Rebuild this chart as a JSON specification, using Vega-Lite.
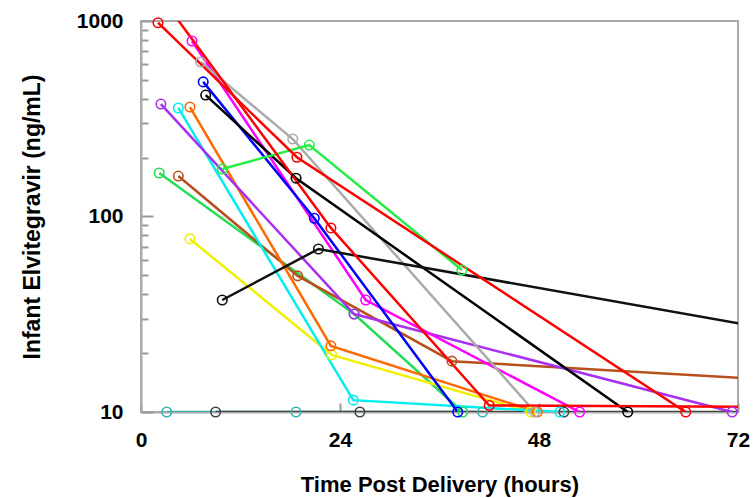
{
  "$schema": "https://vega.github.io/schema/vega-lite/v6.json",
  "width": 597,
  "height": 391,
  "autosize": {"type": "none"},
  "padding": {"left": 141, "top": 21, "right": 15, "bottom": 86},
  "background": "white",
  "config": {
    "view": {"stroke": "#aaaaaa", "strokeWidth": 2},
    "font": "Liberation Sans"
  },
  "data": {
    "values": [
      {"series": "P01", "hour": 3.1, "conc": 10},
      {"series": "P01", "hour": 18.7, "conc": 10},
      {"series": "P01", "hour": 41.2, "conc": 10},
      {"series": "P02", "hour": 9.0, "conc": 10},
      {"series": "P02", "hour": 26.4, "conc": 10},
      {"series": "P02", "hour": 51.0, "conc": 10},
      {"series": "P02", "hour": 80, "conc": 10},
      {"series": "P03", "hour": 2.2, "conc": 167},
      {"series": "P03", "hour": 25.7, "conc": 31.7},
      {"series": "P03", "hour": 38.8, "conc": 10},
      {"series": "P04", "hour": 4.5, "conc": 161},
      {"series": "P04", "hour": 18.9, "conc": 49.7},
      {"series": "P04", "hour": 37.5, "conc": 18.2},
      {"series": "P04", "hour": 80, "conc": 14.3},
      {"series": "P05", "hour": 5.9, "conc": 76.8},
      {"series": "P05", "hour": 23.0, "conc": 19.6},
      {"series": "P05", "hour": 47.0, "conc": 10},
      {"series": "P06", "hour": 5.9, "conc": 363},
      {"series": "P06", "hour": 22.9, "conc": 21.8},
      {"series": "P06", "hour": 47.8, "conc": 10},
      {"series": "P07", "hour": 4.5, "conc": 359},
      {"series": "P07", "hour": 25.6, "conc": 11.5},
      {"series": "P07", "hour": 50.5, "conc": 10},
      {"series": "P08", "hour": 2.4, "conc": 376},
      {"series": "P08", "hour": 25.7, "conc": 31.7},
      {"series": "P08", "hour": 71.3, "conc": 10},
      {"series": "P09", "hour": 6.15, "conc": 790},
      {"series": "P09", "hour": 27.1, "conc": 37.4},
      {"series": "P09", "hour": 52.9, "conc": 10},
      {"series": "P10", "hour": 7.2, "conc": 617},
      {"series": "P10", "hour": 18.3, "conc": 249},
      {"series": "P10", "hour": 47.5, "conc": 10},
      {"series": "P11", "hour": 7.5, "conc": 488},
      {"series": "P11", "hour": 20.9, "conc": 98},
      {"series": "P11", "hour": 38.2, "conc": 10},
      {"series": "P12", "hour": 7.8, "conc": 418},
      {"series": "P12", "hour": 18.7, "conc": 157},
      {"series": "P12", "hour": 58.7, "conc": 10},
      {"series": "P13", "hour": 9.8, "conc": 37.4},
      {"series": "P13", "hour": 21.4, "conc": 68.2},
      {"series": "P13", "hour": 80, "conc": 24.8},
      {"series": "P14", "hour": 9.8, "conc": 175},
      {"series": "P14", "hour": 20.3, "conc": 232},
      {"series": "P14", "hour": 38.7, "conc": 53.2},
      {"series": "P15", "hour": 2.05, "conc": 980},
      {"series": "P15", "hour": 18.8, "conc": 201},
      {"series": "P15", "hour": 65.7, "conc": 10},
      {"series": "P16", "hour": 3.5, "conc": 1150},
      {"series": "P16", "hour": 22.9, "conc": 87.4},
      {"series": "P16", "hour": 42.0, "conc": 10.8},
      {"series": "P16", "hour": 80, "conc": 10.6}
    ]
  },
  "encoding": {
    "x": {
      "field": "hour", "type": "quantitative",
      "scale": {"domain": [0, 72], "nice": false, "zero": false},
      "axis": {
        "title": "Time Post Delivery (hours)",
        "values": [0, 24, 48, 72],
        "grid": false,
        "domainColor": "#aaaaaa", "domainWidth": 2,
        "tickColor": "#999999", "tickWidth": 2, "tickSize": -9,
        "labelFontSize": 21, "labelFontWeight": "bold", "labelColor": "#000000",
        "labelPadding": 26, "labelFlush": false,
        "titleFontSize": 22, "titleFontWeight": "bold", "titleColor": "#000000",
        "titlePadding": 24
      }
    },
    "y": {
      "field": "conc", "type": "quantitative",
      "scale": {"type": "log", "domain": [10, 1000], "nice": false},
      "axis": {
        "title": "Infant Elvitegravir (ng/mL)",
        "values": [10, 20, 30, 40, 50, 60, 70, 80, 90, 100, 200, 300, 400, 500, 600, 700, 800, 900, 1000],
        "labelExpr": "datum.value == 10 || datum.value == 100 || datum.value == 1000 ? format(datum.value, 'd') : ''",
        "grid": false,
        "domainColor": "#aaaaaa", "domainWidth": 2,
        "tickColor": "#999999", "tickWidth": 2,
        "tickSize": {"condition": {"test": "datum.value == 10 || datum.value == 100 || datum.value == 1000", "value": -12}, "value": -7},
        "labelFontSize": 21, "labelFontWeight": "bold", "labelColor": "#000000",
        "labelPadding": 30, "labelFlush": false,
        "titleFontSize": 23, "titleFontWeight": "bold", "titleColor": "#000000",
        "titlePadding": 32
      }
    },
    "color": {
      "field": "series", "type": "nominal", "legend": null,
      "scale": {
        "domain": ["P01", "P02", "P03", "P04", "P05", "P06", "P07", "P08", "P09", "P10", "P11", "P12", "P13", "P14", "P15", "P16"],
        "range": ["#36b3b3", "#444444", "#22dd55", "#b8501e", "#f0f000", "#ff6a00", "#00eeee", "#a830ee", "#ff00ff", "#aaaaaa", "#0000ff", "#000000", "#111111", "#22ee44", "#ff0000", "#ff0000"]
      }
    }
  },
  "layer": [
    {"mark": {"type": "line", "strokeWidth": 2.5, "clip": true}},
    {
      "transform": [{"filter": "datum.hour <= 72 && datum.conc <= 1000"}],
      "mark": {"type": "point", "shape": "circle", "filled": false, "size": 90, "strokeWidth": 1.6, "opacity": 1}
    }
  ]
}
